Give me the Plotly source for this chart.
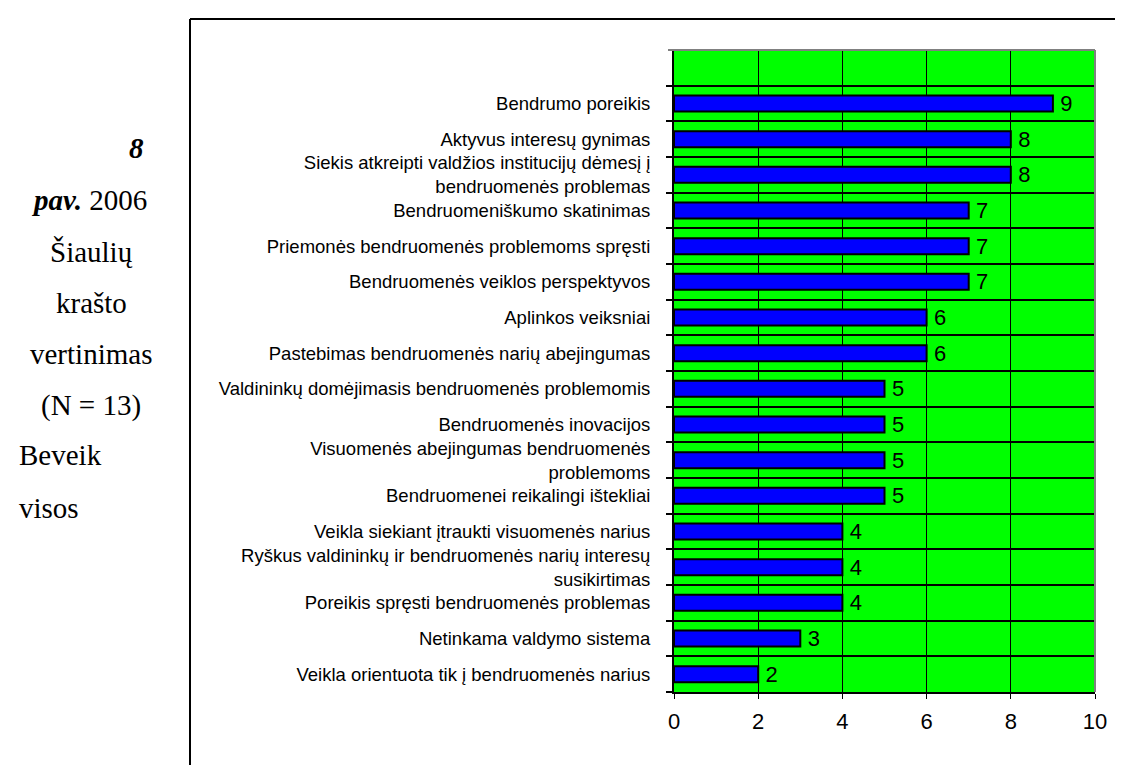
import plotly.graph_objects as go

# ---- data (bottom to top) ----
categories = [
    "Veikla orientuota tik į bendruomenės narius",
    "Netinkama valdymo sistema",
    "Poreikis spręsti bendruomenės problemas",
    "Ryškus valdininkų ir bendruomenės narių interesų<br>susikirtimas",
    "Veikla siekiant įtraukti visuomenės narius",
    "Bendruomenei reikalingi ištekliai",
    "Visuomenės abejingumas bendruomenės<br>problemoms",
    "Bendruomenės inovacijos",
    "Valdininkų domėjimasis bendruomenės problemomis",
    "Pastebimas bendruomenės narių abejingumas",
    "Aplinkos veiksniai",
    "Bendruomenės veiklos perspektyvos",
    "Priemonės bendruomenės problemoms spręsti",
    "Bendruomeniškumo skatinimas",
    "Siekis atkreipti valdžios institucijų dėmesį į<br>bendruomenės problemas",
    "Aktyvus interesų gynimas",
    "Bendrumo poreikis",
]
values = [2, 3, 4, 4, 4, 5, 5, 5, 5, 6, 6, 7, 7, 7, 8, 8, 9]
x_ticks = [0, 2, 4, 6, 8, 10]

# ---- layout geometry (pixels) ----
W, H = 1123, 765
L, R, T, B = 666, 1087, 42, 684
PW, PH = R - L, B - T


def px(xp):
    return (xp - L) / PW


def py(yp):
    return (B - yp) / PH


fig = go.Figure()
fig.add_trace(go.Bar(
    y=categories, x=values, orientation="h",
    marker=dict(color="#0000FF", line=dict(color="black", width=2)),
    width=0.45,
    text=[str(v) for v in values], textposition="outside",
    texttemplate="\u2009%{text}",
    constraintext="none",
    textfont=dict(family="Liberation Sans, Arial", size=22, color="black"),
    cliponaxis=False, hoverinfo="skip",
))

shapes = [
    # gray plot-area frame (top, right)
    dict(type="line", xref="paper", yref="paper", x0=px(660), x1=1, y0=1, y1=1,
         line=dict(color="#808080", width=2)),
    dict(type="line", xref="paper", yref="paper", x0=1, x1=1, y0=0, y1=1,
         line=dict(color="#808080", width=2)),
    # outer page box (left and top border)
    dict(type="line", xref="paper", yref="paper", x0=px(182), x1=px(182), y0=py(11), y1=py(800),
         line=dict(color="black", width=2)),
    dict(type="line", xref="paper", yref="paper", x0=px(182), x1=px(1200), y0=py(11), y1=py(11),
         line=dict(color="black", width=2)),
]

serif = "Liberation Serif, Times New Roman, serif"
fs = 29
annotations = [
    dict(text="<b><i>8</i></b>", x=px(138), y=py(140), xanchor="right"),
    dict(text="<b><i>pav.</i></b> 2006", x=px(81), y=py(192), xanchor="center"),
    dict(text="Šiaulių", x=px(83), y=py(244), xanchor="center"),
    dict(text="krašto", x=px(83), y=py(295), xanchor="center"),
    dict(text="vertinimas", x=px(83), y=py(346), xanchor="center"),
    dict(text="(N = 13)", x=px(83), y=py(397), xanchor="center"),
    dict(text="Beveik", x=px(9), y=py(447), xanchor="left"),
    dict(text="visos", x=px(9), y=py(500), xanchor="left"),
]
for a in annotations:
    a.update(xref="paper", yref="paper", yanchor="middle", showarrow=False,
             font=dict(family=serif, size=fs, color="black"))

fig.update_layout(
    width=W, height=H,
    margin=dict(l=L, r=W - R, t=T, b=H - B, pad=0),
    paper_bgcolor="white", plot_bgcolor="#00FF00",
    showlegend=False,
    font=dict(family="Liberation Sans, Arial", color="black"),
    shapes=shapes, annotations=annotations,
    xaxis=dict(
        range=[0, 10], tickvals=x_ticks, showgrid=True, gridcolor="black", gridwidth=1,
        zeroline=False, showline=True, linecolor="black", linewidth=2,
        ticks="outside", ticklen=5, tickcolor="black", tickwidth=1,
        tickfont=dict(size=22, color="black"), ticklabelstandoff=4,
        fixedrange=True,
    ),
    yaxis=dict(
        type="category", categoryorder="array", categoryarray=categories,
        range=[-0.5, len(categories) + 0.5], tickson="boundaries",
        showgrid=True, gridcolor="black", gridwidth=1.5,
        showline=True, linecolor="black", linewidth=2,
        ticks="outside", ticklen=6, tickcolor="black", tickwidth=1.5,
        tickfont=dict(size=18.5, color="black"), ticklabelstandoff=18,
        fixedrange=True,
    ),
)

fig.write_html("out.html", config={"displayModeBar": False})
